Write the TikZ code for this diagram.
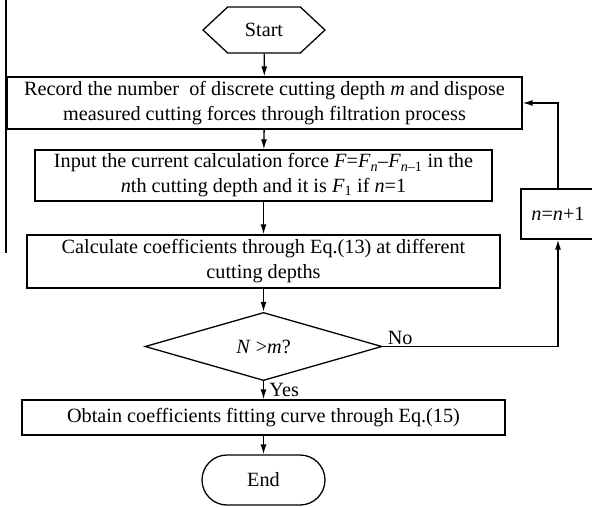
\documentclass[tikz,border=0pt]{standalone}
\usepackage{fontspec}
\setmainfont{Liberation Serif}
\usetikzlibrary{shapes.geometric,shapes.symbols,arrows.meta}
\tikzset{
  proc/.style={draw,rectangle,line width=1.3bp,align=center,inner sep=0pt},
  term/.style={draw,rectangle,rounded corners=25bp,line width=1.3bp,minimum width=123bp,minimum height=50bp},
  hexa/.style={draw,signal,signal to=west and east,signal pointer angle=86,line width=1.3bp,minimum height=46bp},
  decide/.style={draw,diamond,line width=1.3bp,inner sep=0pt,minimum width=237bp,minimum height=57bp},
  flow/.style={line width=1.3bp,-{Latex[length=10bp,width=6bp]}}
}
\begin{document}
\begin{tikzpicture}[x=1bp,y=-1bp,font=\fontsize{20.3}{25}\selectfont]
\useasboundingbox (0,0) rectangle (592,507);
\draw [line width=1.3bp] (6,0)--(6,253);
\node [hexa,minimum width=122bp] (start) at (264,30) {Start};
\node [proc,minimum width=515bp,minimum height=52bp] (record) at (264.5,103)
  {Record the number\ \ of discrete cutting depth \textit{m} and dispose\\measured cutting forces through filtration process};
\node [proc,minimum width=457bp,minimum height=51bp] (input) at (263.5,175.5)
  {Input the current calculation force \textit{F}=\textit{F}\textsubscript{\textit{n}}--\textit{F}\textsubscript{\textit{n}--1} in the\\\textit{n}th cutting depth and it is \textit{F}\textsubscript{1} if \textit{n}=1};
\node [proc,minimum width=473bp,minimum height=53bp] (calc) at (263.5,261.5)
  {Calculate coefficients through Eq.(13) at different\\cutting depths};
\node [decide] (check) at (263.5,346.5) {\textit{N} >\textit{m}?};
\node [proc,minimum width=483bp,minimum height=35bp] (fit) at (263.5,417.5)
  {Obtain coefficients fitting curve through Eq.(15)};
\node [term] (stop) at (263.5,480) {End};
\node [proc,minimum width=120bp,minimum height=50bp] (inc) at (581,214) {\hspace*{-46bp}\textit{n}=\textit{n}+1};
\coordinate (incin) at ([xshift=-23bp]inc.south);
\coordinate (incout) at ([xshift=-23bp]inc.north);
% main flow
\draw [flow] (start)--(record);
\draw [flow] (record)--(input);
\draw [flow] (input)--(calc);
\draw [flow] (calc)--(check);
\draw [flow] (check)--node[right,xshift=2bp]{Yes}(fit);
\draw [flow] (fit)--(stop);
% loop back
\draw [flow] (check.east)-|(incin);
\node [anchor=south west,inner sep=2bp] (no) at ([xshift=3bp]check.east) {No};
\draw [flow] (incout)|-(record.east);
\end{tikzpicture}
\end{document}
